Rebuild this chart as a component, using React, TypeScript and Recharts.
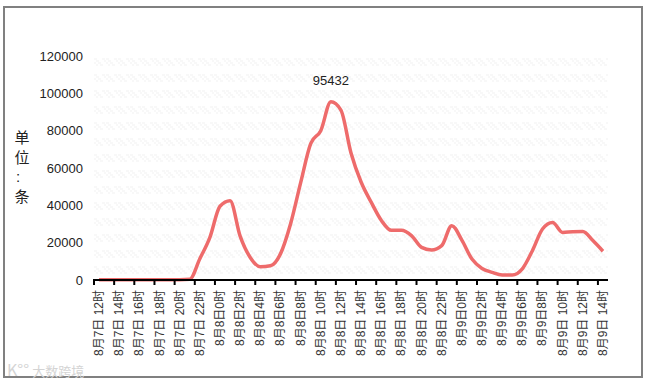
import React from "react";
import { LineChart, Line, XAxis, YAxis, ReferenceArea } from "recharts";

const categories = [
  "8月7日 12时","8月7日 13时","8月7日 14时","8月7日 15时","8月7日 16时","8月7日 17时","8月7日 18时","8月7日 19时","8月7日 20时","8月7日 21时","8月7日 22时","8月7日 23时",
  "8月8日0时","8月8日1时","8月8日2时","8月8日3时","8月8日4时","8月8日5时","8月8日6时","8月8日7时","8月8日8时","8月8日9时","8月8日 10时","8月8日 11时","8月8日 12时","8月8日 13时","8月8日 14时","8月8日 15时","8月8日 16时","8月8日 17时","8月8日 18时","8月8日 19时","8月8日 20时","8月8日 21时","8月8日 22时","8月8日 23时",
  "8月9日0时","8月9日1时","8月9日2时","8月9日3时","8月9日4时","8月9日5时","8月9日6时","8月9日7时","8月9日8时","8月9日9时","8月9日 10时","8月9日 11时","8月9日 12时","8月9日 13时","8月9日 14时",
];
const counts = [
  150,150,150,150,150,150,150,150,150,400,11400,22900,
  39500,42500,23500,12100,7100,7600,14000,30000,52000,73000,80000,95432,91000,68000,52500,41700,32000,26600,26600,23800,17500,16100,18400,29100,
  21400,11200,6200,4100,2700,2700,6000,15700,27300,30800,25500,25900,26000,21100,15400,
];
const yTicks = [0, 20000, 40000, 60000, 80000, 100000, 120000];
const unitChars = ["单", "位", ":", "条"];
const peakLabel = "95432";
const rows = categories.map((name, i) => ({ name, value: counts[i] }));

const FONT = '"Liberation Sans", "Noto Sans CJK SC", sans-serif';
const HALF_BAND = 5.04;

const XTick = (props: any) => {
  const { x, y, payload } = props;
  const tx = x - HALF_BAND;
  return (
    <g>
      <line x1={tx} x2={tx} y1={y - 9} y2={y - 3} stroke="#000" strokeWidth={2} />
      <text
        transform={`translate(${x + 4},${y + 2}) rotate(-90)`}
        textAnchor="end"
        fontSize={12}
        fontFamily={FONT}
        fill="#333"
      >
        {payload.value}
      </text>
    </g>
  );
};

const UnitLabel = () => (
  <g>
    {unitChars.map((c, i) => (
      <text
        key={c}
        x={c === ":" ? 18 : 22}
        y={143 + i * 19.5}
        textAnchor="middle"
        fontSize={15}
        fontFamily={FONT}
        fill="#222"
      >
        {c}
      </text>
    ))}
  </g>
);

const PeakLabel = (props: any) => {
  const { x, y, index } = props;
  if (counts[index] !== 95432) return <g />;
  return (
    <text x={x} y={y - 17} textAnchor="middle" fontSize={13} fontFamily={FONT} fill="#222">
      {peakLabel}
    </text>
  );
};

const HatchArea = (props: any) => (
  <rect
    x={props.x - HALF_BAND}
    y={props.y}
    width={props.width + 2 * HALF_BAND}
    height={props.height}
    fill="url(#hatch)"
  />
);

export default function App() {
  return (
    <div style={{ position: "absolute", left: 0, top: 0, width: 647, height: 384, background: "#fff", overflow: "hidden" }}>
      <div
        style={{
          position: "absolute",
          left: 3,
          top: 6,
          width: 640,
          height: 372,
          border: "2px solid #808080",
          boxSizing: "border-box",
        }}
      />
      <div style={{ position: "absolute", left: 0, top: 0 }}>
        <LineChart width={647} height={384} data={rows} margin={{ top: 56, right: 39, bottom: 0, left: 0 }}>
          <defs>
            <pattern id="hatch" patternUnits="userSpaceOnUse" width="12" height="16" patternTransform="translate(94,58)">
              <rect x="0" y="0" width="3" height="2" fill="#f8f8f8" />
              <rect x="2" y="2" width="3" height="2" fill="#f8f8f8" />
              <rect x="4" y="4" width="3" height="2" fill="#f8f8f8" />
              <rect x="6" y="6" width="3" height="2" fill="#f8f8f8" />
              <rect x="8" y="0" width="3" height="2" fill="#f8f8f8" />
              <rect x="10" y="2" width="2" height="2" fill="#f8f8f8" />
              <rect x="0" y="4" width="2" height="2" fill="#f8f8f8" />
              <rect x="2" y="6" width="2" height="2" fill="#f8f8f8" />
            </pattern>
          </defs>
          <ReferenceArea y1={0} y2={120000} shape={<HatchArea />} />
          <XAxis
            dataKey="name"
            interval={1}
            padding={{ left: HALF_BAND, right: HALF_BAND }}
            axisLine={{ stroke: "#000", strokeWidth: 2 }}
            tickLine={false}
            tick={<XTick />}
            height={104}
          />
          <YAxis
            domain={[0, 120000]}
            ticks={yTicks}
            interval={0}
            width={94}
            axisLine={false}
            tickLine={false}
            tickMargin={5}
            tick={{ fontSize: 13, fontFamily: FONT, fill: "#222" }}
            label={<UnitLabel />}
          />
          <Line
            dataKey="value"
            type="monotone"
            stroke="#ee6b6b"
            strokeWidth={3.5}
            dot={false}
            isAnimationActive={false}
            label={<PeakLabel />}
          />
        </LineChart>
      </div>
      <div
        style={{
          position: "absolute",
          left: 7,
          top: 360,
          lineHeight: "18px",
          fontFamily: '"Noto Sans CJK SC", sans-serif',
          color: "#d4d4d4",
          whiteSpace: "nowrap",
        }}
      >
        <span style={{ fontSize: 16, marginRight: 3 }}>K°°</span>
        <span style={{ fontSize: 13 }}>大数跨境</span>
      </div>
    </div>
  );
}
